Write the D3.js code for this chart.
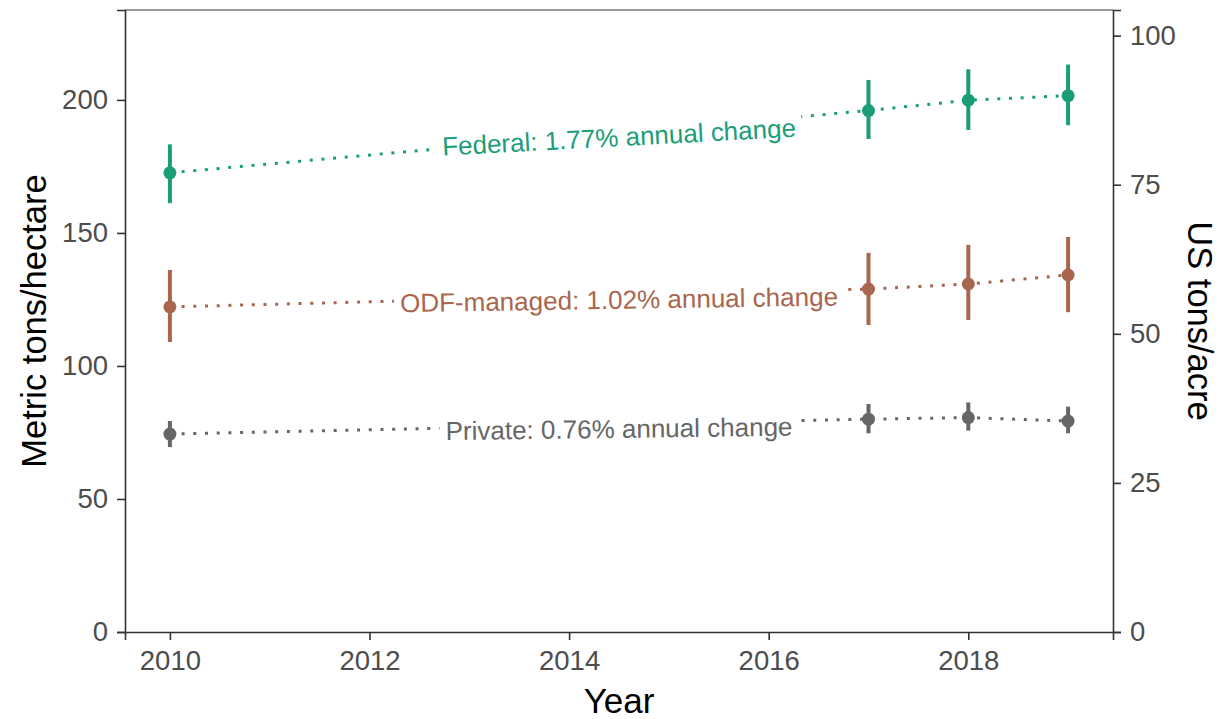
<!DOCTYPE html>
<html>
<head>
<meta charset="utf-8">
<script src="https://cdn.jsdelivr.net/npm/d3@7"></script>
<style>
  body { margin: 0; background: #fff; }
  svg text { font-family: "Liberation Sans", Arial, sans-serif; }
</style>
</head>
<body>
<div id="chart"></div>
<script>
///////////////////// Data ////////////////////////
var years = [2010, 2017, 2018, 2019];

var federalMean = [172.6, 196.0, 199.9, 201.6];
var federalLow  = [161.2, 185.3, 188.7, 190.5];
var federalHigh = [183.3, 207.5, 211.5, 213.3];

var odfMean = [122.2, 128.9, 130.8, 134.2];
var odfLow  = [109.0, 115.4, 117.3, 120.2];
var odfHigh = [136.1, 142.5, 145.5, 148.5];

var privateMean = [74.4, 80.0, 80.6, 79.3];
var privateLow  = [69.5, 74.7, 75.7, 74.7];
var privateHigh = [79.3, 85.7, 86.3, 84.7];

var seriesLabels = ["Federal: 1.77% annual change",
                    "ODF-managed: 1.02% annual change",
                    "Private: 0.76% annual change"];
var seriesColors = ["#1b9e77", "#a9664f", "#666666"];

var xTicks = [2010, 2012, 2014, 2016, 2018];
var yTicks = [0, 50, 100, 150, 200];
var y2Ticks = [0, 25, 50, 75, 100];
// metric tons/hectare per US ton/acre
var tonsAcreToMetric = 2.2417;
////////////////////////////////////////////////////

var width = 1223, height = 719;
var margin = {left: 125, right: 110, top: 10, bottom: 87};

var svg = d3.select("#chart").append("svg")
    .attr("width", width)
    .attr("height", height);

var x = d3.scaleLinear().domain([2009.55, 2019.45]).range([margin.left, width - margin.right]);
var y = d3.scaleLinear().domain([0, 233.8]).range([height - margin.bottom, margin.top]);
var y2 = d3.scaleLinear().domain([0, 233.8 / tonsAcreToMetric]).range([height - margin.bottom, margin.top]);

var axisColor = "#333333", tickText = "#4d4d4d";

// panel box (top line), axes drawn below
svg.append("line")
    .attr("x1", x.range()[0]).attr("x2", x.range()[1])
    .attr("y1", margin.top).attr("y2", margin.top)
    .attr("stroke", axisColor).attr("stroke-width", 1.2);

var styleAxis = function(g) {
  g.select(".domain").attr("stroke", axisColor).attr("stroke-width", 1.6);
  g.selectAll(".tick line").attr("stroke", axisColor).attr("stroke-width", 1.6);
  g.selectAll(".tick text").attr("fill", tickText).style("font-size", "27.5px");
};

svg.append("g")
    .attr("transform", "translate(0," + (height - margin.bottom) + ")")
    .call(d3.axisBottom(x).tickValues(xTicks).tickFormat(d3.format("d")).tickSizeOuter(0).tickSize(8).tickPadding(10))
    .call(styleAxis);

svg.append("g")
    .attr("transform", "translate(" + margin.left + ",0)")
    .call(d3.axisLeft(y).tickValues(yTicks).tickSizeOuter(0).tickSize(8).tickPadding(9))
    .call(styleAxis);

svg.append("g")
    .attr("transform", "translate(" + (width - margin.right) + ",0)")
    .call(d3.axisRight(y2).tickValues(y2Ticks).tickSizeOuter(0).tickSize(8).tickPadding(9))
    .call(styleAxis);

// axis titles
var midY = (margin.top + height - margin.bottom) / 2;
svg.append("text")
    .attr("transform", "translate(46," + midY + ") rotate(-90)")
    .attr("text-anchor", "middle")
    .style("font-size", "34.5px")
    .text("Metric tons/hectare");

svg.append("text")
    .attr("transform", "translate(1188," + midY + ") rotate(90)")
    .attr("text-anchor", "middle")
    .style("font-size", "34.5px")
    .text("US tons/acre");

svg.append("text")
    .attr("x", (x.range()[0] + x.range()[1]) / 2)
    .attr("y", 713)
    .attr("text-anchor", "middle")
    .style("font-size", "35px")
    .text("Year");

// series
var series = [
  {means: federalMean, lows: federalLow, highs: federalHigh},
  {means: odfMean, lows: odfLow, highs: odfHigh},
  {means: privateMean, lows: privateLow, highs: privateHigh}
];

var line = d3.line()
    .x(function (d) { return x(d[0]); })
    .y(function (d) { return y(d[1]); });

var defs = svg.append("defs");
var lineLayer = svg.append("g");
var markLayer = svg.append("g");
var labelLayer = svg.append("g");
var labelSize = 26;

series.forEach(function (s, i) {
  var color = seriesColors[i];
  var pts = years.map(function (yr, j) { return [yr, s.means[j]]; });

  // label position: middle of the x range, on the 2010-2017 segment
  var midYear = (years[0] + years[years.length - 1]) / 2;
  var t = (midYear - years[0]) / (years[1] - years[0]);
  var midVal = s.means[0] + t * (s.means[1] - s.means[0]);
  var cx = x(midYear), cy = y(midVal) + 4;
  var slope = (y(s.means[1]) - y(s.means[0])) / (x(years[1]) - x(years[0]));
  var angle = Math.atan(slope) * 180 / Math.PI * 0.6;

  var label = labelLayer.append("text")
      .attr("transform", "translate(" + cx + "," + cy + ") rotate(" + angle + ")")
      .attr("text-anchor", "middle")
      .attr("dy", labelSize * 0.36)
      .attr("fill", color)
      .style("font-size", labelSize + "px")
      .text(seriesLabels[i]);
  var len = label.node().getComputedTextLength();

  // mask to cut the dotted line under the label
  var mask = defs.append("mask").attr("id", "gap" + i)
      .attr("maskUnits", "userSpaceOnUse")
      .attr("x", 0).attr("y", 0).attr("width", width).attr("height", height);
  mask.append("rect").attr("width", width).attr("height", height).attr("fill", "#fff");
  mask.append("rect")
      .attr("transform", "translate(" + cx + "," + cy + ") rotate(" + angle + ")")
      .attr("x", -len / 2 - 6).attr("y", -labelSize * 0.6)
      .attr("width", len + 12).attr("height", labelSize * 1.2)
      .attr("fill", "#000");

  lineLayer.append("path")
      .datum(pts)
      .attr("d", line)
      .attr("fill", "none")
      .attr("stroke", color)
      .attr("stroke-width", 3)
      .attr("stroke-dasharray", "3,8.7")
      .attr("mask", "url(#gap" + i + ")");

  // error bars
  markLayer.selectAll(".bar" + i)
      .data(years)
      .enter().append("line")
      .attr("class", "bar" + i)
      .attr("x1", function (d) { return x(d); })
      .attr("x2", function (d) { return x(d); })
      .attr("y1", function (d, j) { return y(s.lows[j]); })
      .attr("y2", function (d, j) { return y(s.highs[j]); })
      .attr("stroke", color)
      .attr("stroke-width", 4);

  // points
  markLayer.selectAll(".pt" + i)
      .data(years)
      .enter().append("circle")
      .attr("class", "pt" + i)
      .attr("cx", function (d) { return x(d); })
      .attr("cy", function (d, j) { return y(s.means[j]); })
      .attr("r", 6.5)
      .attr("fill", color);
});
</script>
</body>
</html>
